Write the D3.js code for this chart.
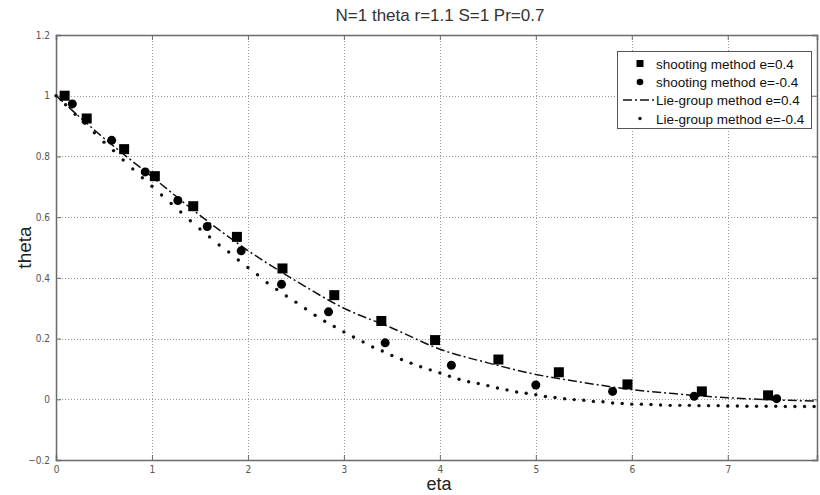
<!DOCTYPE html>
<html>
<head>
<meta charset="utf-8">
<script src="https://cdn.jsdelivr.net/npm/d3@7"></script>
<style>
  body { margin: 0; background: #fff; }
  svg { display: block; }
</style>
</head>
<body>
<div id="chart"></div>
<script>
// shooting method e=0.4 (squares)
const shootPosEta = [0.09, 0.32, 0.71, 1.03, 1.43, 1.885, 2.36, 2.90, 3.39, 3.95, 4.61, 5.24, 5.955, 6.73, 7.42];
const shootPosTheta = [1.0, 0.925, 0.824, 0.735, 0.636, 0.535, 0.431, 0.343, 0.258, 0.195, 0.131, 0.089, 0.049, 0.026, 0.013];
// shooting method e=-0.4 (circles)
const shootNegEta = [0.17, 0.58, 0.93, 1.27, 1.576, 1.93, 2.35, 2.84, 3.43, 4.12, 5.0, 5.80, 6.65, 7.51];
const shootNegTheta = [0.973, 0.853, 0.749, 0.655, 0.569, 0.489, 0.379, 0.288, 0.186, 0.112, 0.047, 0.026, 0.010, 0.002];
// Lie-group method e=0.4 (dash-dot line)
const liePosEta = [0, 0.5, 1.0, 1.5, 2.0, 2.5, 3.0, 3.5, 4.0, 4.5, 5.0, 5.5, 6.0, 6.5, 7.0, 7.5, 7.93];
const liePosTheta = [1.0, 0.86, 0.733, 0.606, 0.49, 0.39, 0.30, 0.235, 0.165, 0.12, 0.082, 0.055, 0.032, 0.017, 0.005, -0.002, -0.006];
// Lie-group method e=-0.4 (dots)
const lieNegEta = [0.0, 0.1, 0.2, 0.3, 0.4, 0.5, 0.6, 0.7, 0.8, 0.9,
  1.0, 1.1, 1.2, 1.3, 1.4, 1.5, 1.6, 1.7, 1.8, 1.9,
  2.0, 2.1, 2.2, 2.3, 2.4, 2.5, 2.6, 2.7, 2.8, 2.9,
  3.0, 3.1, 3.2, 3.3, 3.4, 3.5, 3.6, 3.7, 3.8, 3.9,
  4.0, 4.1, 4.2, 4.3, 4.4, 4.5, 4.6, 4.7, 4.8, 4.9,
  5.0, 5.1, 5.2, 5.3, 5.4, 5.5, 5.6, 5.7, 5.8, 5.9,
  6.0, 6.1, 6.2, 6.3, 6.4, 6.5, 6.6, 6.7, 6.8, 6.9,
  7.0, 7.1, 7.2, 7.3, 7.4, 7.5, 7.6, 7.7, 7.8, 7.9];
const lieNegTheta = [1.000, 0.970, 0.939, 0.909, 0.878, 0.847, 0.819, 0.788, 0.759, 0.730,
  0.702, 0.673, 0.645, 0.617, 0.588, 0.561, 0.535, 0.508, 0.485, 0.459,
  0.434, 0.410, 0.384, 0.362, 0.340, 0.320, 0.298, 0.277, 0.257, 0.240,
  0.222, 0.205, 0.189, 0.172, 0.159, 0.144, 0.131, 0.119, 0.107, 0.097,
  0.087, 0.076, 0.066, 0.058, 0.052, 0.045, 0.037, 0.031, 0.024, 0.020,
  0.015, 0.009, 0.006, 0.002, -0.001, -0.003, -0.007, -0.008, -0.012, -0.014,
  -0.016, -0.016, -0.017, -0.019, -0.020, -0.020, -0.020, -0.021, -0.021, -0.021,
  -0.022, -0.022, -0.023, -0.023, -0.023, -0.023, -0.024, -0.024, -0.024, -0.024];

const xTicks = [0, 1, 2, 3, 4, 5, 6, 7];
const yTicks = [-0.2, 0, 0.2, 0.4, 0.6, 0.8, 1, 1.2];
const legendLabels = ["shooting method e=0.4", "shooting method e=-0.4", "Lie-group method e=0.4", "Lie-group method e=-0.4"];

const W = 820, H = 495;
const m = {top: 35, right: 3, bottom: 35, left: 56};
const svg = d3.select("#chart").append("svg").attr("width", W).attr("height", H);

const x = d3.scaleLinear().domain([0, 7.93]).range([m.left, W - m.right]);
const y = d3.scaleLinear().domain([-0.2, 1.2]).range([H - m.bottom, m.top]);

const tickFont = "'Liberation Sans Narrow', 'Arial Narrow', 'DejaVu Sans Condensed', sans-serif";
const mainFont = "'Liberation Sans', Arial, sans-serif";

// grid
const grid = svg.append("g").attr("stroke", "#9a9a9a").attr("stroke-width", 1).attr("stroke-dasharray", "1,2");
grid.selectAll(".gx").data(xTicks.filter(d => d > 0)).join("line")
  .attr("x1", d => Math.round(x(d)) + 0.5).attr("x2", d => Math.round(x(d)) + 0.5)
  .attr("y1", m.top).attr("y2", H - m.bottom);
grid.selectAll(".gy").data(yTicks.filter(d => d > -0.2 && d < 1.2)).join("line")
  .attr("y1", d => Math.round(y(d)) + 0.5).attr("y2", d => Math.round(y(d)) + 0.5)
  .attr("x1", m.left).attr("x2", W - m.right);

// axes (MATLAB style box with inward ticks)
const axB = svg.append("g").attr("transform", `translate(0,${H - m.bottom})`)
  .call(d3.axisBottom(x).tickValues(xTicks).tickSize(-5).tickPadding(6).tickFormat(d3.format("d")));
const axL = svg.append("g").attr("transform", `translate(${m.left},0)`)
  .call(d3.axisLeft(y).tickValues(yTicks).tickSize(-5).tickPadding(6).tickFormat(d => d3.format("")(+d.toFixed(1))));
const axT = svg.append("g").attr("transform", `translate(0,${m.top})`)
  .call(d3.axisTop(x).tickValues(xTicks).tickSize(-5).tickFormat(""));
const axR = svg.append("g").attr("transform", `translate(${W - m.right},0)`)
  .call(d3.axisRight(y).tickValues(yTicks).tickSize(-5).tickFormat(""));
[axB, axL, axT, axR].forEach(a => {
  a.selectAll("path").attr("stroke", "#6a6a6a").attr("stroke-width", 1.5);
  a.selectAll("line").attr("stroke", "#6a6a6a");
  a.selectAll("text").attr("fill", "#555").style("font-family", tickFont).style("font-size", "10px");
});

// Lie-group e=0.4: dash-dot line
const line = d3.line().x(d => x(d[0])).y(d => y(d[1])).curve(d3.curveMonotoneX);
svg.append("path").datum(d3.zip(liePosEta, liePosTheta))
  .attr("d", line).attr("fill", "none").attr("stroke", "#111").attr("stroke-width", 1.5)
  .attr("stroke-dasharray", "9,3,2,3");

// Lie-group e=-0.4: dots
svg.append("g").selectAll("circle").data(d3.zip(lieNegEta, lieNegTheta)).join("circle")
  .attr("cx", d => x(d[0])).attr("cy", d => y(d[1])).attr("r", 1.7).attr("fill", "#111");

// shooting e=0.4: squares
const sq = 10;
svg.append("g").selectAll("rect").data(d3.zip(shootPosEta, shootPosTheta)).join("rect")
  .attr("x", d => x(d[0]) - sq / 2).attr("y", d => y(d[1]) - sq / 2)
  .attr("width", sq).attr("height", sq).attr("fill", "#000");

// shooting e=-0.4: circles
svg.append("g").selectAll("circle").data(d3.zip(shootNegEta, shootNegTheta)).join("circle")
  .attr("cx", d => x(d[0])).attr("cy", d => y(d[1])).attr("r", 4.5).attr("fill", "#000");

// title and labels
svg.append("text").attr("x", 440).attr("y", 21).attr("text-anchor", "middle")
  .style("font-family", mainFont).style("font-size", "17px").attr("fill", "#333")
  .text("N=1 theta r=1.1 S=1 Pr=0.7");
svg.append("text").attr("x", 439).attr("y", 490).attr("text-anchor", "middle")
  .style("font-family", mainFont).style("font-size", "18px").attr("fill", "#222")
  .text("eta");
svg.append("text").attr("transform", `translate(31,${(m.top + H - m.bottom) / 2}) rotate(-90)`).attr("text-anchor", "middle")
  .style("font-family", mainFont).style("font-size", "19px").attr("fill", "#222")
  .text("theta");

// legend
const lg = svg.append("g");
lg.append("rect").attr("x", 617.5).attr("y", 51.5).attr("width", 194).attr("height", 77)
  .attr("fill", "#fff").attr("stroke", "#555").attr("stroke-width", 1);
const rowY = [63.5, 82, 100, 118.5];
lg.selectAll("text").data(legendLabels).join("text")
  .attr("x", 656).attr("y", (d, i) => rowY[i] + 5)
  .style("font-family", mainFont).style("font-size", "13.5px").attr("fill", "#111")
  .text(d => d);
lg.append("rect").attr("x", 640 - 3.5).attr("y", rowY[0] - 3.5).attr("width", 7).attr("height", 7).attr("fill", "#000");
lg.append("circle").attr("cx", 640).attr("cy", rowY[1]).attr("r", 3.3).attr("fill", "#000");
lg.append("line").attr("x1", 623).attr("x2", 654).attr("y1", rowY[2]).attr("y2", rowY[2])
  .attr("stroke", "#111").attr("stroke-width", 1.5).attr("stroke-dasharray", "9,3,2,3");
lg.append("circle").attr("cx", 640).attr("cy", rowY[3]).attr("r", 1.7).attr("fill", "#000");
</script>
</body>
</html>
